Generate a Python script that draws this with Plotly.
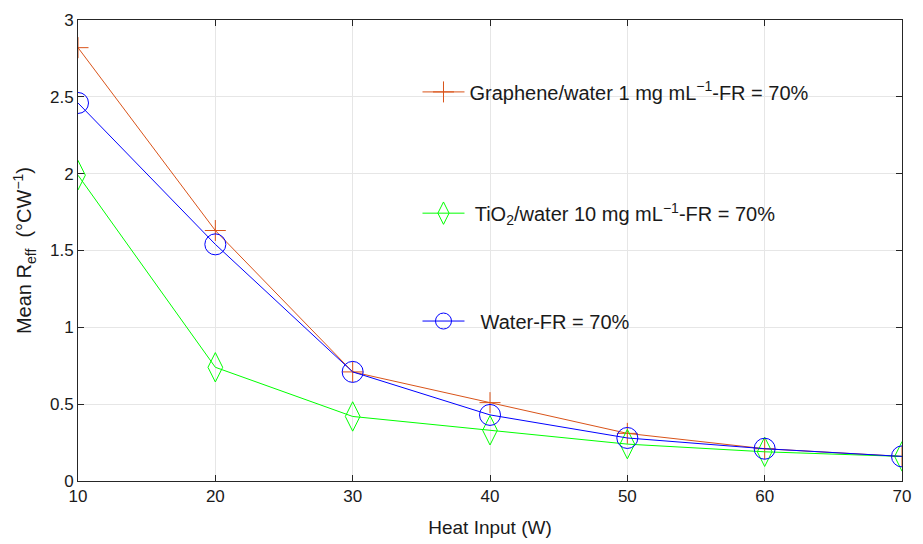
import plotly.graph_objects as go

heat_input = [10, 20, 30, 40, 50, 60, 70]
graphene = [2.82, 1.63, 0.71, 0.51, 0.31, 0.21, 0.16]
tio2 = [1.99, 0.74, 0.42, 0.33, 0.24, 0.19, 0.16]
water = [2.46, 1.54, 0.71, 0.43, 0.28, 0.21, 0.16]

names = [
    "Graphene/water 1 mg mL<sup>\u22121</sup>-FR = 70%",
    " TiO<sub>2</sub>/water 10 mg mL<sup>\u22121</sup>-FR = 70%",
    "  Water-FR = 70%",
]

FONT = "Liberation Sans, Arial, sans-serif"

fig = go.Figure()
fig.add_trace(go.Scatter(
    x=heat_input, y=graphene, mode="lines+markers", name=names[0],
    line=dict(color="#D95319", width=1),
    marker=dict(symbol="cross-thin", size=15, line=dict(color="#D95319", width=1)),
    legend="legend", showlegend=True,
))
fig.add_trace(go.Scatter(
    x=heat_input, y=tio2, mode="lines+markers", name=names[1],
    line=dict(color="#00FF00", width=1),
    marker=dict(symbol="diamond-tall-open", size=21, color="#00FF00", line=dict(color="#00FF00", width=1)),
    legend="legend2", showlegend=True,
))
fig.add_trace(go.Scatter(
    x=heat_input, y=water, mode="lines+markers", name=names[2],
    line=dict(color="#0000FF", width=1),
    marker=dict(symbol="circle-open", size=21, color="#0000FF", line=dict(color="#0000FF", width=1)),
    legend="legend3", showlegend=True,
))

leg = dict(bgcolor="rgba(0,0,0,0)", borderwidth=0, xanchor="left", yanchor="middle",
           font=dict(family=FONT, size=20, color="#1a1a1a"), itemsizing="trace",
           itemwidth=42, visible=True)

fig.update_layout(
    width=915, height=536,
    margin=dict(l=70, r=21, t=12, b=63),
    paper_bgcolor="white", plot_bgcolor="white",
    showlegend=True,
    font=dict(family=FONT, size=17, color="#1a1a1a"),
    legend=dict(leg, x=0.412, y=0.844),
    legend2=dict(leg, x=0.412, y=0.581),
    legend3=dict(leg, x=0.412, y=0.347),
    xaxis=dict(
        range=[10, 70], tickvals=heat_input, showgrid=True, gridcolor="#e6e6e6", gridwidth=1,
        showline=True, linecolor="#262626", linewidth=1, mirror="ticks",
        ticks="inside", ticklen=6, tickcolor="#262626", zeroline=False, automargin=False,
        title=dict(text="Heat Input (W)", font=dict(size=19), standoff=15),
        tickfont=dict(size=17),
    ),
    yaxis=dict(
        range=[0, 3], tickvals=[0, 0.5, 1, 1.5, 2, 2.5, 3], ticktext=["0", "0.5", "1", "1.5", "2", "2.5", "3"],
        showgrid=True, gridcolor="#e6e6e6", gridwidth=1,
        showline=True, linecolor="#262626", linewidth=1, mirror="ticks",
        ticks="inside", ticklen=6, tickcolor="#262626", zeroline=False, automargin=False,
        title=dict(text="Mean R<sub>eff</sub>  (\u00b0CW<sup>\u22121</sup>)", font=dict(size=20), standoff=12),
        tickfont=dict(size=17),
    ),
)

fig.write_html("out.html")
